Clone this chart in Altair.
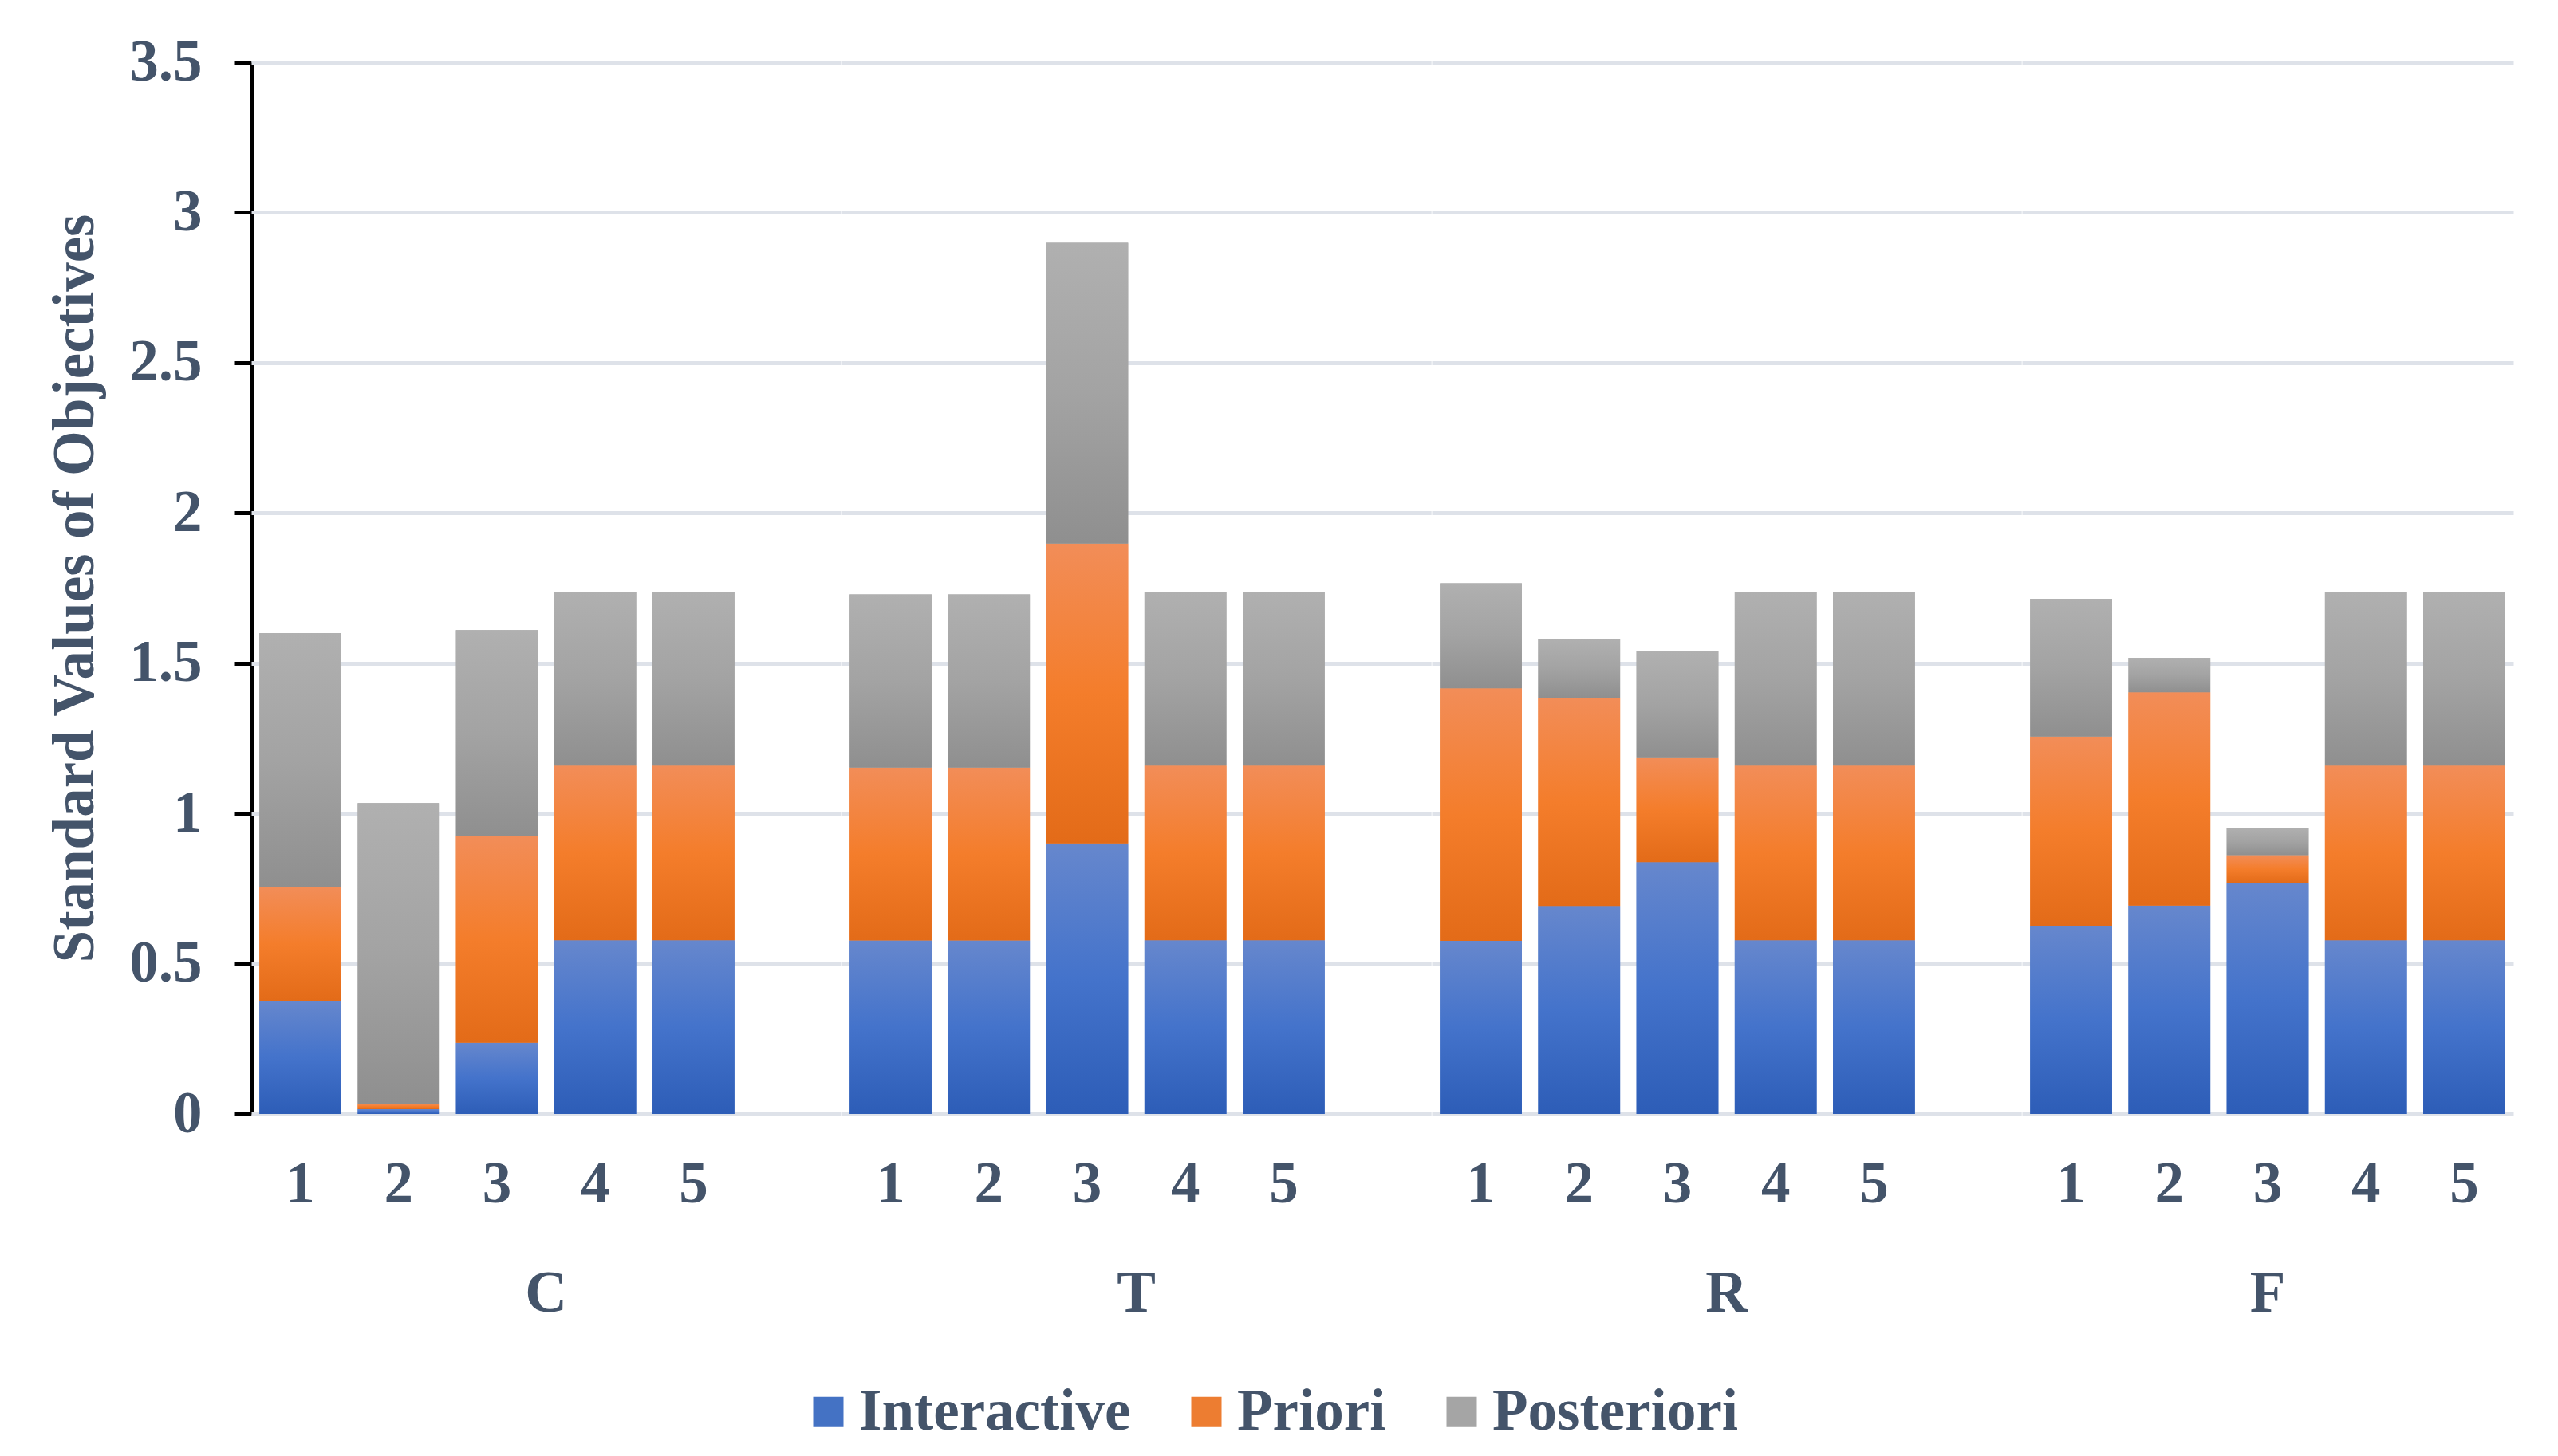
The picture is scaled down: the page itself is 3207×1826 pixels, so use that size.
import altair as alt
import pandas as pd

groups = ["C", "T", "R", "F"]
runs = ["1", "2", "3", "4", "5"]
series = ["Interactive", "Priori", "Posteriori"]

interactive = {
    "C": [0.376, 0.016, 0.237, 0.578, 0.578],
    "T": [0.577, 0.577, 0.900, 0.578, 0.578],
    "R": [0.576, 0.692, 0.838, 0.578, 0.578],
    "F": [0.626, 0.693, 0.769, 0.578, 0.578],
}
priori = {
    "C": [0.379, 0.018, 0.687, 0.581, 0.581],
    "T": [0.575, 0.575, 0.998, 0.581, 0.581],
    "R": [0.840, 0.693, 0.349, 0.581, 0.581],
    "F": [0.630, 0.710, 0.092, 0.581, 0.581],
}
posteriori = {
    "C": [0.845, 1.000, 0.686, 0.579, 0.579],
    "T": [0.577, 0.577, 1.001, 0.579, 0.579],
    "R": [0.350, 0.195, 0.352, 0.579, 0.579],
    "F": [0.458, 0.115, 0.091, 0.579, 0.579],
}

solid_colors = ["#4472C4", "#ED7D31", "#A5A5A5"]
gradients = {
    "Interactive": ["#6687CD", "#4473CB", "#2D5DB7"],
    "Priori": ["#F28D58", "#F47D2B", "#E36B18"],
    "Posteriori": ["#B0B0B0", "#A3A3A3", "#8F8F8F"],
}

BLANK = " "
rows = []
for g in groups:
    for i, r in enumerate(runs):
        for k, (s, src) in enumerate(zip(series, [interactive, priori, posteriori])):
            rows.append({"group": g, "run": r, "series": s, "order": k, "value": src[g][i]})
    if g != groups[-1]:
        rows.append({"group": g, "run": BLANK, "series": "Interactive", "order": 0, "value": 0.0})
df = pd.DataFrame(rows)

FONT = "Liberation Serif"
TXT = "#44546A"
FS = 73

x_enc = alt.X("run:N", sort=runs + [BLANK],
              scale=alt.Scale(paddingInner=1/6, paddingOuter=1/12),
              axis=alt.Axis(title=None, labelAngle=0, domain=False, ticks=False,
                            labelPadding=52, labelFont=FONT, labelFontSize=FS,
                            labelFontWeight="bold", labelColor=TXT))
y_enc = alt.Y("y0:Q", scale=alt.Scale(domain=[0, 3.5]),
              axis=alt.Axis(title="Standard Values of Objectives",
                            values=[0, 0.5, 1, 1.5, 2, 2.5, 3, 3.5], format=".2~f",
                            domainColor="black", domainWidth=5, tickColor="black",
                            tickWidth=5, tickSize=22, labelPadding=40,
                            labelFont=FONT, labelFontSize=FS, labelFontWeight="bold",
                            labelColor=TXT, titleFont=FONT, titleFontSize=FS,
                            titleFontWeight="bold", titleColor=TXT, titlePadding=30,
                            gridColor="#DEE2E9", gridWidth=5))

base_solid = alt.Chart().mark_bar().encode(
    x=x_enc, y=y_enc, y2="y1:Q",
    color=alt.Color("series:N", scale=alt.Scale(domain=series, range=solid_colors),
                    legend=alt.Legend(title=None, orient="none", direction="horizontal",
                                      legendX=687, legendY=1656,
                                      symbolType="square", symbolSize=1444,
                                      symbolStrokeWidth=0, labelFont=FONT,
                                      labelFontSize=FS, labelFontWeight="bold",
                                      labelColor=TXT, labelOffset=2,
                                      columnPadding=58, labelLimit=1000)),
)

layers = [base_solid]
for s in series:
    c0, c1, c2 = gradients[s]
    grad = alt.LinearGradient(gradient="linear", x1=0, x2=0, y1=0, y2=1,
                              stops=[alt.GradientStop(color=c0, offset=0),
                                     alt.GradientStop(color=c1, offset=0.5),
                                     alt.GradientStop(color=c2, offset=1)])
    layers.append(
        alt.Chart().mark_bar(fill=grad).encode(x=x_enc, y=y_enc, y2="y1:Q")
        .transform_filter(alt.datum.series == s)
    )

layered = alt.layer(*layers).transform_stack(
    stack="value", as_=["y0", "y1"], groupby=["group", "run"],
    sort=[alt.SortField("order", "ascending")]
).properties(width=alt.Step(123.2), height=1319)

chart = layered.facet(
    column=alt.Column("group:N", sort=groups,
                      header=alt.Header(title=None, labelOrient="bottom",
                                        labelPadding=65, labelFont=FONT,
                                        labelFontSize=FS, labelFontWeight="bold",
                                        labelColor=TXT)),
    data=df, spacing=0,
).resolve_scale(x="independent").properties(
    padding={"left": 50, "top": 34, "right": 40, "bottom": 20}
).configure_view(stroke=None).configure_axisX(grid=False)

chart.save("out.html", embed_options={"renderer": "svg", "actions": False})
